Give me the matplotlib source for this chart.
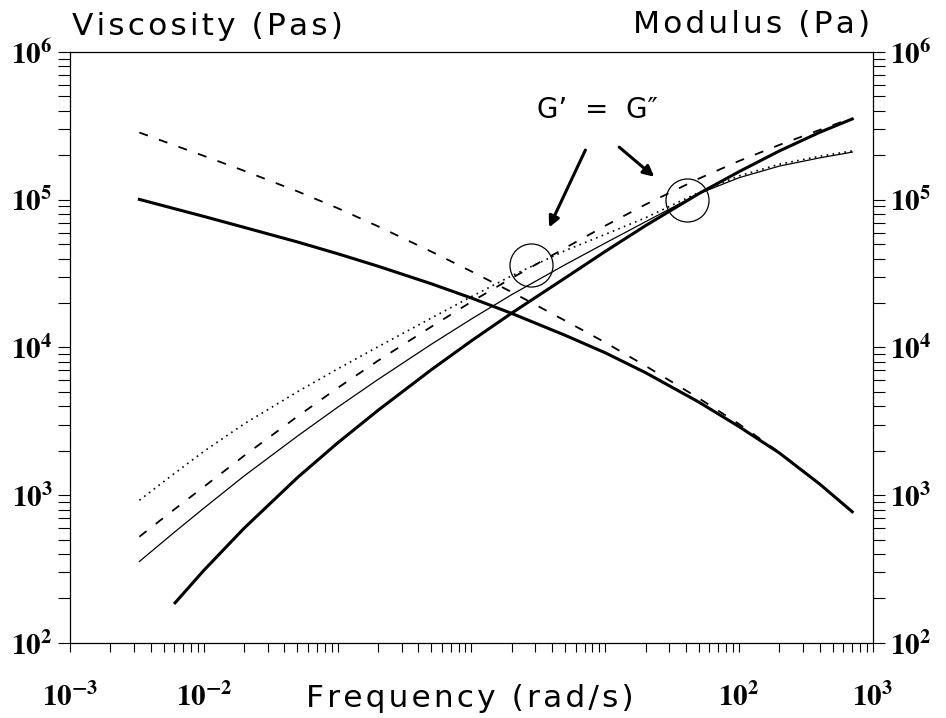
import matplotlib
matplotlib.use('Agg')
import matplotlib.pyplot as plt
from matplotlib.ticker import FixedLocator, FixedFormatter, LogLocator, NullFormatter

plt.rcParams['mathtext.fontset'] = 'stix'
plt.rcParams['font.family'] = 'DejaVu Sans'

# frequency sweep (rad/s)
freq = [0.0033, 0.006, 0.01, 0.02, 0.05, 0.1, 0.2, 0.5, 1, 2, 5, 10, 20, 50, 100, 200, 400, 700]
freq_g1_storage = [0.0061, 0.01, 0.02, 0.05, 0.1, 0.2, 0.5, 1, 2, 5, 10, 20, 50, 100, 200, 400, 700]

# complex viscosity (Pas)
eta_1 = [100500, 87100, 77100, 65000, 51800, 43100, 35500, 27000, 21600, 17000,
         12100, 9200, 6750, 4270, 2910, 1930, 1190, 773]
eta_2 = [285000, 234000, 198000, 157000, 114000, 87700, 66100, 44600, 32700, 23700,
         15200, 10800, 7500, 4530, 3030, 1950, 1190, 773]

# moduli (Pa)
g1_storage = [187, 310, 598, 1315, 2260, 3750, 7060, 11100, 17100, 29500,
              44700, 66800, 110000, 155000, 214000, 286000, 352000]
g1_loss = [356, 560, 817, 1350, 2510, 3940, 6070, 10500, 15600, 22800,
           36300, 50900, 71000, 110000, 141000, 169000, 192000, 210000]
g2_storage = [524, 800, 1140, 1850, 3410, 5320, 8130, 13800, 20400, 29500,
              47100, 66700, 92900, 139000, 183000, 235000, 297000, 357000]
g2_loss = [925, 1400, 1980, 3040, 5010, 7160, 10100, 15800, 22100, 30600,
           45200, 58300, 75500, 112000, 145000, 174000, 197000, 214000]

# crossover points G' = G''
cross_freq = [2.8, 41]
cross_mod = [36000, 100000]

x_ticks = [1e-3, 1e-2, 1e-1, 1e0, 1e1, 1e2, 1e3]
x_labels = [r'$\mathbf{10^{-3}}$', r'$\mathbf{10^{-2}}$', '', '', '',
            r'$\mathbf{10^{2}}$', r'$\mathbf{10^{3}}$']
y_ticks = [1e2, 1e3, 1e4, 1e5, 1e6]
y_labels = [r'$\mathbf{10^{%d}}$' % k for k in range(2, 7)]


def spaced(s):
    # open up the letter spacing a little
    return '\u200a'.join(s)


fig = plt.figure(figsize=(9.46, 7.18), dpi=100)
ax = fig.add_axes([0.074, 0.1045, 0.8488, 0.8231])

dash = (5, 6.5)
ax.plot(freq, eta_1, color='black', lw=2.2)
ax.plot(freq, eta_2, color='black', lw=1.3, dashes=dash)
ax.plot(freq_g1_storage, g1_storage, color='black', lw=2.2)
ax.plot(freq, g1_loss, color='black', lw=0.9)
ax.plot(freq, g2_storage, color='black', lw=1.3, dashes=dash)
ax.plot(freq, g2_loss, color='black', lw=1.2, dashes=(1, 2.6))

ax.plot(cross_freq, cross_mod, linestyle='none', marker='o', markersize=31,
        markerfacecolor='none', markeredgecolor='black', markeredgewidth=0.9)

ax.text(8.7, 4.05e5, "G’  =  G″", fontsize=20, ha='center', va='center')
arrow = dict(arrowstyle='-|>', color='black', lw=2.2, mutation_scale=16,
             shrinkA=0, shrinkB=0)
ax.annotate('', xy=(3.8, 6.5e4), xytext=(7.1, 2.17e5), arrowprops=arrow)
ax.annotate('', xy=(23.2, 1.43e5), xytext=(12.7, 2.27e5), arrowprops=arrow)

ax.set_xscale('log')
ax.set_yscale('log')
ax.set_xlim(1e-3, 1e3)
ax.set_ylim(1e2, 1e6)

ax.xaxis.set_major_locator(FixedLocator(x_ticks))
ax.xaxis.set_major_formatter(FixedFormatter(x_labels))
ax.xaxis.set_minor_locator(LogLocator(base=10, subs=range(2, 10), numticks=20))
ax.xaxis.set_minor_formatter(NullFormatter())
ax.yaxis.set_major_locator(FixedLocator(y_ticks))
ax.yaxis.set_major_formatter(FixedFormatter(y_labels))
ax.yaxis.set_minor_locator(LogLocator(base=10, subs=range(2, 10), numticks=20))
ax.yaxis.set_minor_formatter(NullFormatter())

ax.tick_params(axis='x', which='both', direction='out', length=6.5, width=0.8,
               top=False, bottom=True, pad=22, labelsize=21)
ax.tick_params(axis='y', which='both', direction='out', length=8.5, width=0.8,
               left=True, right=True, labelleft=True, labelright=True,
               pad=4, labelsize=21)
for s in ax.spines.values():
    s.set_linewidth(0.9)

fig.text(0.076, 0.9513, spaced('Viscosity (Pas)'), fontsize=22.5, ha='left', va='baseline')
fig.text(0.9197, 0.954, spaced('Modulus (Pa)'), fontsize=22.5, ha='right', va='baseline')
fig.text(0.497, 0.0153, spaced('Frequency (rad/s)'), fontsize=22.5, ha='center', va='baseline')

fig.savefig('out.png', dpi=100)
